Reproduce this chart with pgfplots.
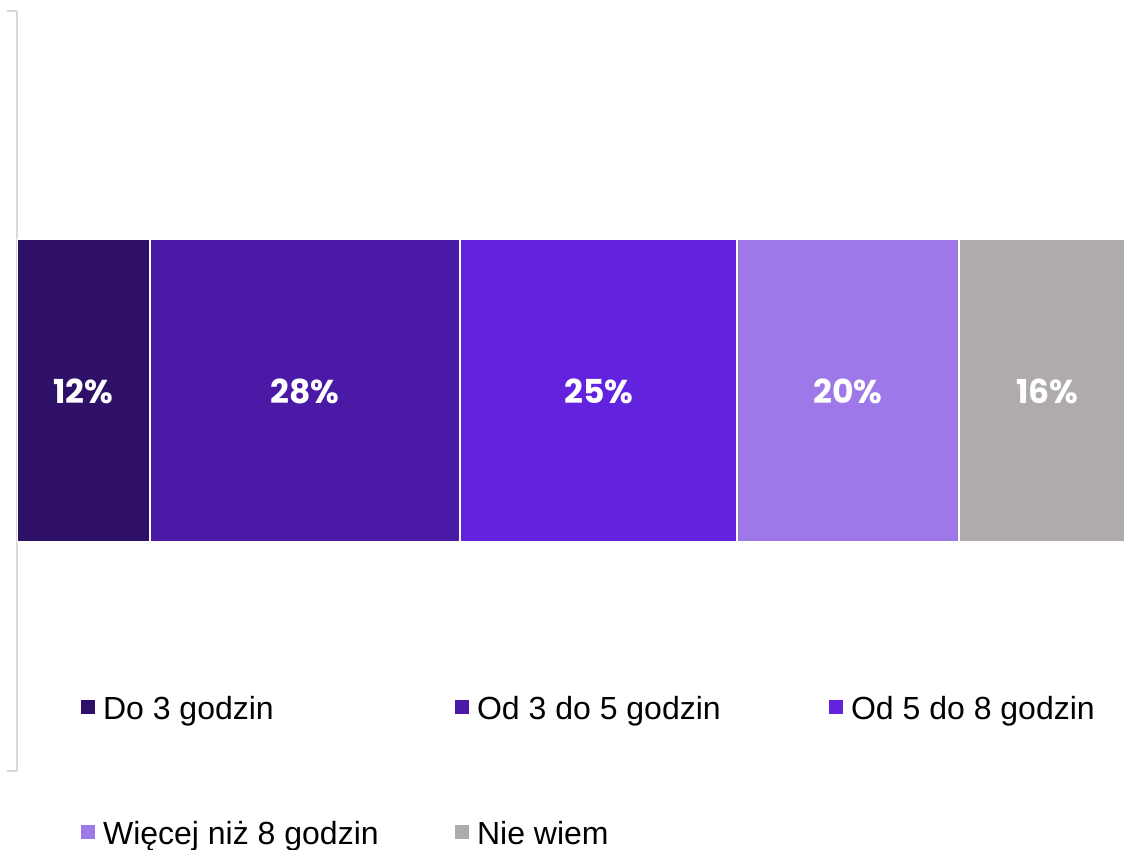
\documentclass[border=0pt]{standalone}
\usepackage{pgfplots}
\pgfplotsset{compat=1.18}
\usepackage{fontspec}
\setmainfont{Liberation Sans}
\newfontfamily\pop{Poppins}
\definecolor{c1}{HTML}{2E1068}
\definecolor{c2}{HTML}{4A1AA6}
\definecolor{c3}{HTML}{6222DE}
\definecolor{c4}{HTML}{9E78E8}
\definecolor{c5}{HTML}{AFABAA}
\definecolor{axg}{HTML}{D9D9D9}
\begin{document}
\begin{tikzpicture}[x=1pt,y=1pt]
\begin{axis}[
  at={(16,80)}, anchor=south west, scale only axis,
  width=1108pt, height=760pt,
  xmin=0, xmax=100, ymin=-1, ymax=1,
  xbar stacked, bar width=303pt,
  hide x axis,
  axis y line*=left,
  y axis line style={draw=axg, line width=1.5pt},
  ytick={-1,1}, yticklabels={},
  tick align=outside, major tick length=10pt,
  y tick style={draw=axg, line width=1.5pt},
  legend columns=3,
  legend cell align=left,
  legend image code/.code={\fill[#1,draw=none] (0pt,-7pt) rectangle (14pt,7pt);},
  legend style={draw=none, fill=none, inner sep=0pt, outer sep=0pt,
    at={(0.0578,0.1027)}, anchor=north west,
    font=\fontsize{32}{38}\selectfont,
    nodes={inner sep=0pt},
    /tikz/every odd column/.append style={column sep=8pt},
    row sep=97pt},
]
\coordinate (BL) at (rel axis cs:0,0);
\addplot[fill=c1, draw=white, line width=2pt] coordinates {(12,0)};
\addlegendentry{\makebox[352pt][l]{Do 3 godzin\strut}}
\addplot[fill=c2, draw=white, line width=2pt] coordinates {(28,0)};
\addlegendentry{\makebox[352pt][l]{Od 3 do 5 godzin\strut}}
\addplot[fill=c3, draw=white, line width=2pt] coordinates {(25,0)};
\addlegendentry{\makebox[352pt][l]{Od 5 do 8 godzin\strut}}
\addplot[fill=c4, draw=white, line width=2pt] coordinates {(20,0)};
\addlegendentry{\makebox[352pt][l]{Więcej niż 8 godzin\strut}}
\addplot[fill=c5, draw=white, line width=2pt] coordinates {(16,0)};
\addlegendentry{\makebox[352pt][l]{Nie wiem\strut}}
\end{axis}
\begin{axis}[
  at={(16,80)}, anchor=south west, scale only axis,
  width=1108pt, height=760pt,
  xmin=0, xmax=100, ymin=-1, ymax=1,
  hide axis, clip=false,
]
\addplot[draw=none, mark=none, nodes near coords, point meta=explicit symbolic,
  every node near coord/.append style={anchor=center, text=white,
    font=\pop\bfseries\fontsize{33}{38}\selectfont}]
  coordinates {(6,0)[12\%] (26,0)[28\%] (52.5,0)[25\%] (75,0)[20\%] (93,0)[16\%]};
\end{axis}
\pgfresetboundingbox
\path[use as bounding box] (BL) ++(-17,-79) rectangle ++(1124,850);
\end{tikzpicture}
\end{document}
